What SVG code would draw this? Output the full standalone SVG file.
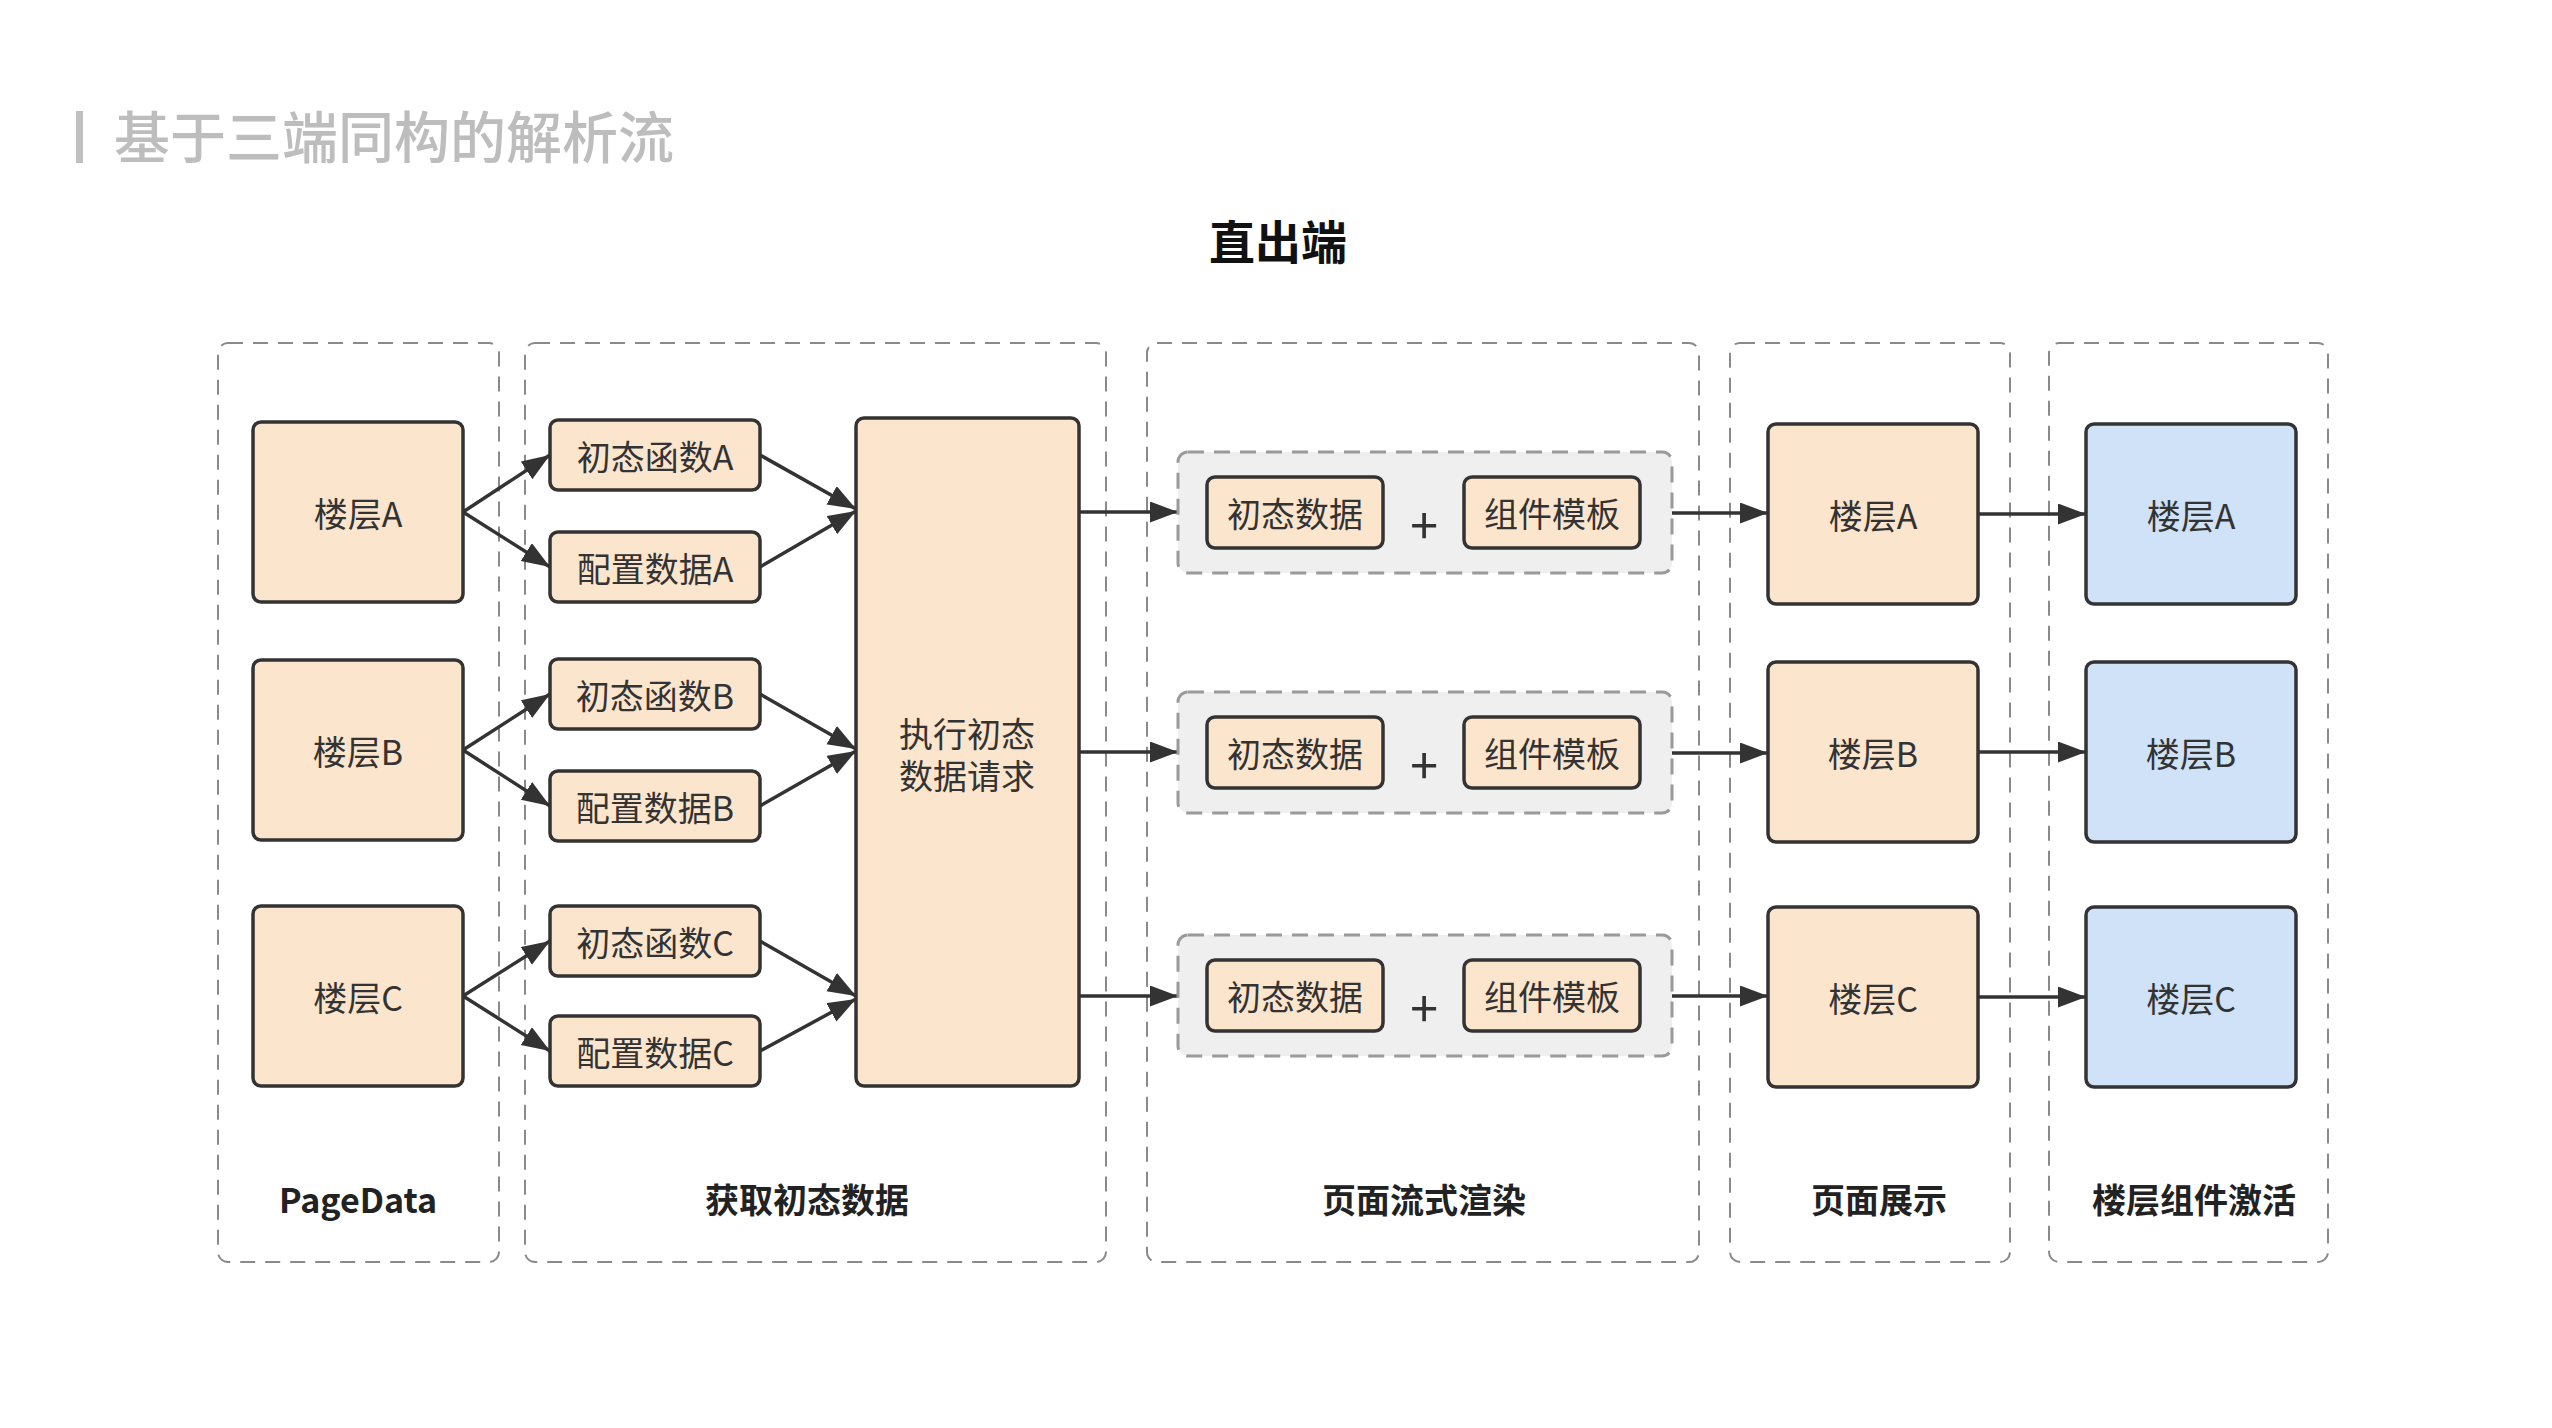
<svg xmlns="http://www.w3.org/2000/svg" width="2552" height="1428" viewBox="0 0 2552 1428">
<defs>
<style>
.bg{fill:#ffffff}
.lane{fill:none;stroke:#8a8a8a;stroke-width:2;stroke-dasharray:15 10}
.grp{fill:#efefef;stroke:#9a9a9a;stroke-width:3;stroke-dasharray:16 10}
.pe{fill:#fce5cd;stroke:#333333;stroke-width:3.5}
.bl{fill:#cfe2f8;stroke:#333333;stroke-width:3.5}
.t{font-family:"Noto Sans CJK SC","Noto Sans",sans-serif;font-size:34px;fill:#333333;text-anchor:middle;dominant-baseline:central}
.lab{font-family:"Noto Sans CJK SC","Noto Sans",sans-serif;font-size:34px;font-weight:bold;fill:#222222;text-anchor:middle;dominant-baseline:central}
.plus{font-family:"Noto Sans CJK SC","Noto Sans",sans-serif;font-size:50px;fill:#333333;text-anchor:middle;dominant-baseline:central}
.e{fill:none;stroke:#333333;stroke-width:3.5}
</style>
<marker id="ah" markerUnits="userSpaceOnUse" markerWidth="30" markerHeight="22" refX="28" refY="10.5" orient="auto">
<path d="M0,0 L28,10.5 L0,21 z" fill="#333333"/>
</marker>
</defs>
<rect class="bg" x="0" y="0" width="2552" height="1428"/>

<g id="title">
<rect x="76" y="111" width="7" height="52" fill="#c0c0c0"/>
<text x="114" y="158" font-family="'Noto Sans CJK SC','Noto Sans',sans-serif" font-size="56" font-weight="500" fill="#bdbdbd">基于三端同构的解析流</text>
<text x="1278" y="259" font-family="'Noto Sans CJK SC','Noto Sans',sans-serif" font-size="46" font-weight="bold" fill="#111111" text-anchor="middle">直出端</text>
</g>

<g id="lanes">
<g id="lane-pagedata"><rect class="lane" x="218" y="343" width="281" height="919" rx="10"/><text class="lab" x="358" y="1198">PageData</text></g>
<g id="lane-fetch"><rect class="lane" x="525" y="343" width="581" height="919" rx="10"/><text class="lab" x="807" y="1198">获取初态数据</text></g>
<g id="lane-render"><rect class="lane" x="1147" y="343" width="552" height="919" rx="10"/><text class="lab" x="1424" y="1198">页面流式渲染</text></g>
<g id="lane-show"><rect class="lane" x="1730" y="343" width="280" height="919" rx="10"/><text class="lab" x="1879" y="1198">页面展示</text></g>
<g id="lane-activate"><rect class="lane" x="2049" y="343" width="279" height="919" rx="10"/><text class="lab" x="2194" y="1198">楼层组件激活</text></g>
</g>

<g id="connectors">
<line class="e" x1="463" y1="512" x2="550" y2="455" marker-end="url(#ah)"/>
<line class="e" x1="463" y1="512" x2="550" y2="567" marker-end="url(#ah)"/>
<line class="e" x1="463" y1="750" x2="550" y2="694" marker-end="url(#ah)"/>
<line class="e" x1="463" y1="750" x2="550" y2="806" marker-end="url(#ah)"/>
<line class="e" x1="463" y1="996" x2="550" y2="941" marker-end="url(#ah)"/>
<line class="e" x1="463" y1="996" x2="550" y2="1051" marker-end="url(#ah)"/>

<line class="e" x1="760" y1="455" x2="856" y2="509" marker-end="url(#ah)"/>
<line class="e" x1="760" y1="567" x2="856" y2="511" marker-end="url(#ah)"/>
<line class="e" x1="760" y1="694" x2="856" y2="749" marker-end="url(#ah)"/>
<line class="e" x1="760" y1="806" x2="856" y2="751" marker-end="url(#ah)"/>
<line class="e" x1="760" y1="941" x2="856" y2="996" marker-end="url(#ah)"/>
<line class="e" x1="760" y1="1051" x2="856" y2="999" marker-end="url(#ah)"/>

<line class="e" x1="1079" y1="512" x2="1178" y2="512" marker-end="url(#ah)"/>
<line class="e" x1="1079" y1="752" x2="1178" y2="752" marker-end="url(#ah)"/>
<line class="e" x1="1079" y1="996" x2="1178" y2="996" marker-end="url(#ah)"/>

<line class="e" x1="1672" y1="513" x2="1768" y2="513" marker-end="url(#ah)"/>
<line class="e" x1="1672" y1="753" x2="1768" y2="753" marker-end="url(#ah)"/>
<line class="e" x1="1672" y1="996" x2="1768" y2="996" marker-end="url(#ah)"/>

<line class="e" x1="1978" y1="514" x2="2086" y2="514" marker-end="url(#ah)"/>
<line class="e" x1="1978" y1="752" x2="2086" y2="752" marker-end="url(#ah)"/>
<line class="e" x1="1978" y1="997" x2="2086" y2="997" marker-end="url(#ah)"/>
</g>

<g id="floorA"><rect class="pe" x="253" y="422" width="210" height="180" rx="8"/><text class="t" x="358" y="512">楼层A</text></g>
<g id="floorB"><rect class="pe" x="253" y="660" width="210" height="180" rx="8"/><text class="t" x="358" y="750">楼层B</text></g>
<g id="floorC"><rect class="pe" x="253" y="906" width="210" height="180" rx="8"/><text class="t" x="358" y="996">楼层C</text></g>

<g id="initFnA"><rect class="pe" x="550" y="420" width="210" height="70" rx="8"/><text class="t" x="655" y="455">初态函数A</text></g>
<g id="cfgA"><rect class="pe" x="550" y="532" width="210" height="70" rx="8"/><text class="t" x="655" y="567">配置数据A</text></g>
<g id="initFnB"><rect class="pe" x="550" y="659" width="210" height="70" rx="8"/><text class="t" x="655" y="694">初态函数B</text></g>
<g id="cfgB"><rect class="pe" x="550" y="771" width="210" height="70" rx="8"/><text class="t" x="655" y="806">配置数据B</text></g>
<g id="initFnC"><rect class="pe" x="550" y="906" width="210" height="70" rx="8"/><text class="t" x="655" y="941">初态函数C</text></g>
<g id="cfgC"><rect class="pe" x="550" y="1016" width="210" height="70" rx="8"/><text class="t" x="655" y="1051">配置数据C</text></g>

<g id="execReq"><rect class="pe" x="856" y="418" width="223" height="668" rx="8"/><text class="t"><tspan x="967" y="732">执行初态</tspan><tspan x="967" y="774">数据请求</tspan></text></g>

<g id="renderA">
<rect class="grp" x="1178" y="452" width="494" height="121" rx="10"/>
<rect class="pe" x="1207" y="477" width="176" height="71" rx="8"/><text class="t" x="1295" y="512">初态数据</text>
<text class="plus" x="1424" y="522">+</text>
<rect class="pe" x="1464" y="477" width="176" height="71" rx="8"/><text class="t" x="1552" y="512">组件模板</text>
</g>
<g id="renderB">
<rect class="grp" x="1178" y="692" width="494" height="121" rx="10"/>
<rect class="pe" x="1207" y="717" width="176" height="71" rx="8"/><text class="t" x="1295" y="752">初态数据</text>
<text class="plus" x="1424" y="762">+</text>
<rect class="pe" x="1464" y="717" width="176" height="71" rx="8"/><text class="t" x="1552" y="752">组件模板</text>
</g>
<g id="renderC">
<rect class="grp" x="1178" y="935" width="494" height="121" rx="10"/>
<rect class="pe" x="1207" y="960" width="176" height="71" rx="8"/><text class="t" x="1295" y="995">初态数据</text>
<text class="plus" x="1424" y="1005">+</text>
<rect class="pe" x="1464" y="960" width="176" height="71" rx="8"/><text class="t" x="1552" y="995">组件模板</text>
</g>

<g id="showA"><rect class="pe" x="1768" y="424" width="210" height="180" rx="8"/><text class="t" x="1873" y="514">楼层A</text></g>
<g id="showB"><rect class="pe" x="1768" y="662" width="210" height="180" rx="8"/><text class="t" x="1873" y="752">楼层B</text></g>
<g id="showC"><rect class="pe" x="1768" y="907" width="210" height="180" rx="8"/><text class="t" x="1873" y="997">楼层C</text></g>

<g id="actA"><rect class="bl" x="2086" y="424" width="210" height="180" rx="8"/><text class="t" x="2191" y="514">楼层A</text></g>
<g id="actB"><rect class="bl" x="2086" y="662" width="210" height="180" rx="8"/><text class="t" x="2191" y="752">楼层B</text></g>
<g id="actC"><rect class="bl" x="2086" y="907" width="210" height="180" rx="8"/><text class="t" x="2191" y="997">楼层C</text></g>
</svg>
